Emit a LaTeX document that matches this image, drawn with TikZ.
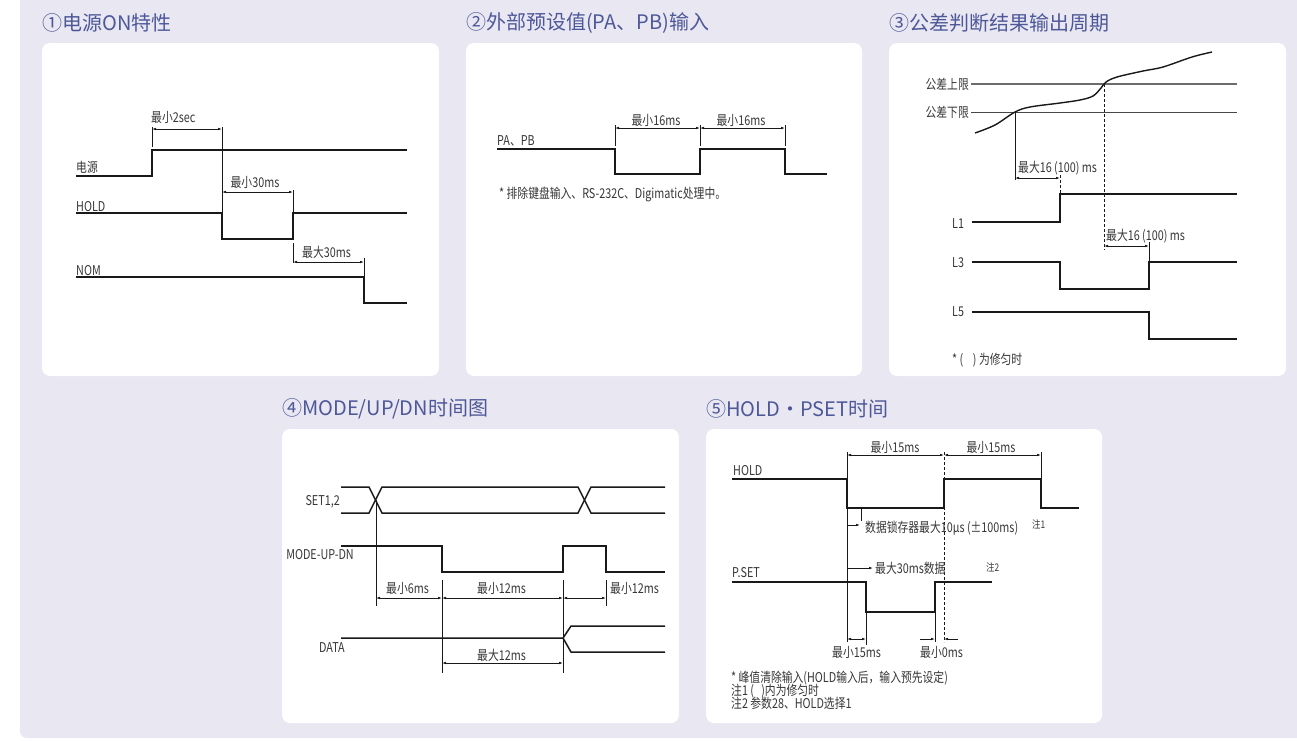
\documentclass[tikz,border=0pt]{standalone}
\usepackage{fontspec}
\usetikzlibrary{arrows.meta}
\newfontfamily\lbfont{Noto Sans CJK SC}[FakeStretch=0.8]
\newfontfamily\ttlfont{Noto Sans CJK SC}
\definecolor{bgc}{RGB}{232,231,242}
\definecolor{ttlc}{RGB}{78,88,152}
\definecolor{txtc}{RGB}{55,55,55}
\definecolor{sigc}{RGB}{25,25,25}
\begin{document}
\begin{tikzpicture}[x=1pt,y=-1pt,
  sig/.style={draw=sigc,line width=1.5pt,line join=miter},
  thinl/.style={draw=sigc,line width=0.8pt},
  dimline/.style={draw=sigc,line width=0.7pt,{Latex[length=4pt,width=2.6pt]}-{Latex[length=4pt,width=2.6pt]}},
  arrline/.style={draw=sigc,line width=0.7pt,-{Latex[length=4pt,width=2.6pt]}},
  dashl/.style={draw=sigc,line width=0.8pt,dash pattern=on 3pt off 2pt},
  lbl/.style={inner sep=0pt,text=txtc,font=\lbfont\fontsize{13.5pt}{15pt}\selectfont},
  small/.style={inner sep=0pt,text=txtc,font=\lbfont\fontsize{10.5pt}{12pt}\selectfont},
  ttl/.style={inner sep=0pt,anchor=west,text=ttlc,font=\ttlfont\fontsize{20pt}{22pt}\selectfont},
  panel/.style={fill=white,rounded corners=8pt}]
\useasboundingbox (0,0) rectangle (1297,740);
\clip (0,0) rectangle (1297,740);
\fill[white] (0,0) rectangle (1297,740);
\fill[bgc,rounded corners=7pt] (20,-20) rectangle (1320,738);
% panels
\fill[panel] (42,43) rectangle (439,376);
\fill[panel] (466,43) rectangle (862,376);
\fill[panel] (889,43) rectangle (1286,376);
\fill[panel] (282,429) rectangle (679,723);
\fill[panel] (706,429) rectangle (1102,723);
% titles
\node[ttl] (t1) at (42,23) {①电源ON特性};
\node[ttl] (t2) at (466,23) {②外部预设值(PA、PB)输入};
\node[ttl] (t3) at (889,23) {③公差判断结果输出周期};
\node[ttl] (t4) at (282,409) {④MODE/UP/DN时间图};
\node[ttl] (t5) at (706,409) {⑤HOLD・PSET时间};

% ===== Panel 1 =====
\draw[sig] (76,176) -- (152,176) -- (152,150) -- (407,150);
\draw[sig] (76,213) -- (222,213) -- (222,239) -- (293,239) -- (293,213) -- (407,213);
\draw[sig] (76,277) -- (364,277) -- (364,303) -- (407,303);
\node[lbl,anchor=base west] (p1a) at (76,172) {电源};
\node[lbl,anchor=base west] (p1b) at (76,211.5) {HOLD};
\node[lbl,anchor=base west] (p1c) at (76,275) {NOM};
\draw[thinl] (152,127) -- (152,147);
\draw[thinl] (222,127) -- (222,213);
\draw[dimline] (152,129) -- (222,129);
\node[lbl,anchor=base west] (p1d) at (151,122.5) {最小2sec};
\draw[thinl] (293,190) -- (293,213);
\draw[dimline] (222,192) -- (293,192);
\node[lbl,anchor=base] (p1e) at (255,187) {最小30ms};
\draw[thinl] (293,243) -- (293,263);
\draw[thinl] (364,258) -- (364,277);
\draw[dimline] (293,262) -- (364,262);
\node[lbl,anchor=base west] (p1f) at (302,257) {最大30ms};

% ===== Panel 2 =====
\draw[sig] (497,149) -- (615,149) -- (615,174) -- (700,174) -- (700,149) -- (785,149) -- (785,174) -- (827,174);
\node[lbl,anchor=base west] (p2a) at (497,145) {PA、PB};
\draw[thinl] (615,125) -- (615,146);
\draw[thinl] (700,125) -- (700,146);
\draw[thinl] (785,125) -- (785,146);
\draw[dimline] (615,128) -- (700,128);
\draw[dimline] (700,128) -- (785,128);
\node[lbl,anchor=base] (p2b) at (656,125.5) {最小16ms};
\node[lbl,anchor=base] (p2c) at (741,125.5) {最小16ms};
\node[lbl,anchor=base west] (p2d) at (499,198.5) {* 排除键盘输入、RS-232C、Digimatic处理中。};

% ===== Panel 3 =====
\draw[draw=gray!85!black,line width=1.3pt] (971,84) -- (1237,84);
\draw[draw=sigc!80,line width=0.8pt] (971,112) -- (1237,112);
\node[lbl,anchor=east] (p3a) at (969,84) {公差上限};
\node[lbl,anchor=east] (p3b) at (969,112) {公差下限};
\draw[sig,line width=1.4pt] plot[smooth,tension=0.55] coordinates {(975,133) (995,125) (1015,112) (1030,107) (1060,103) (1080,100) (1093,96) (1101,88) (1106,82) (1117,77) (1143,71) (1163,67) (1192,57) (1212,52)};
\draw[thinl] (1015,112) -- (1015,180);
\draw[dimline] (1015,178) -- (1060,178);
\draw[dashl] (1060,175) -- (1060,194);
\node[lbl,anchor=base west] (p3c) at (1018,172) {最大16 (100) ms};
\draw[dashl] (1104,84) -- (1104,250);
\draw[sig] (972,222) -- (1060,222) -- (1060,194) -- (1237,194);
\draw[dimline] (1104,246) -- (1149,246);
\draw[thinl] (1149,242) -- (1149,262);
\node[lbl,anchor=base west] (p3d) at (1106,240) {最大16 (100) ms};
\draw[sig] (972,262) -- (1060,262) -- (1060,289) -- (1149,289) -- (1149,262) -- (1237,262);
\draw[sig] (972,312) -- (1149,312) -- (1149,339) -- (1237,339);
\node[lbl,anchor=west] (p3e) at (952,224) {L1};
\node[lbl,anchor=west] (p3f) at (952,263) {L3};
\node[lbl,anchor=west] (p3g) at (952,312) {L5};
\node[lbl,anchor=base west] (p3h) at (952,364) {* (\ \ \ \ ) 为修匀时};

% ===== Panel 4 =====
\draw[sig] (341,487) -- (369,487) -- (382,513) -- (578,513) -- (591,487) -- (665,487);
\draw[sig] (341,513) -- (369,513) -- (382,487) -- (578,487) -- (591,513) -- (665,513);
\node[lbl,anchor=east] (p4a) at (340,502) {SET1,2};
\draw[thinl] (376,500) -- (376,606);
\draw[sig] (341,546) -- (442,546) -- (442,572) -- (563,572) -- (563,546) -- (606,546) -- (606,572) -- (665,572);
\node[lbl,anchor=east] (p4b) at (354,555) {MODE-UP-DN};
\draw[thinl] (442,580) -- (442,673);
\draw[thinl] (563,580) -- (563,673);
\draw[thinl] (606,580) -- (606,606);
\draw[dimline] (376,598) -- (442,598);
\draw[dimline] (442,598) -- (563,598);
\draw[dimline] (563,598) -- (606,598);
\node[lbl,anchor=base west] (p4c) at (386,593.5) {最小6ms};
\node[lbl,anchor=base west] (p4d) at (477,593.5) {最小12ms};
\node[lbl,anchor=base west] (p4e) at (610,593.5) {最小12ms};
\draw[sig] (341,638) -- (563,638) -- (571,626) -- (665,626);
\draw[sig] (563,638) -- (571,652) -- (665,652);
\node[lbl,anchor=east] (p4f) at (345,648) {DATA};
\draw[dimline] (442,663) -- (563,663);
\node[lbl,anchor=base west] (p4g) at (477,660.5) {最大12ms};

% ===== Panel 5 =====
\draw[sig] (732,479) -- (847,479) -- (847,508) -- (944,508) -- (944,479) -- (1041,479) -- (1041,508) -- (1079,508);
\node[lbl,anchor=base west] (p5a) at (733,475.5) {HOLD};
\draw[thinl] (847,452) -- (847,642);
\draw[dashl] (944,452) -- (944,642);
\draw[thinl] (1041,452) -- (1041,479);
\draw[dimline] (847,455) -- (944,455);
\draw[dimline] (944,455) -- (1041,455);
\node[lbl,anchor=base] (p5b) at (895,452.5) {最小15ms};
\node[lbl,anchor=base] (p5c) at (991,452.5) {最小15ms};
\draw[thinl] (861,508) -- (861,521);
\draw[arrline] (847,525) -- (860,525);
\node[lbl,anchor=base west] (p5d) at (865,532) {数据锁存器最大10μs (±100ms)};
\node[small,anchor=base west] (p5e) at (1032,528) {注1};
\draw[arrline] (847,568) -- (873,568);
\node[lbl,anchor=base west] (p5f) at (875,573) {最大30ms数据};
\node[small,anchor=base west] (p5g) at (986,571) {注2};
\draw[sig] (732,582) -- (866,582) -- (866,612) -- (935,612) -- (935,582) -- (992,582);
\node[lbl,anchor=base west] (p5h) at (732,577.5) {P.SET};
\draw[thinl] (866,612) -- (866,645);
\draw[thinl] (935,612) -- (935,642);
\draw[dimline] (847,639) -- (866,639);
\draw[arrline] (920,639) -- (935,639);
\draw[arrline] (958,639) -- (944,639);
\node[lbl,anchor=base west] (p5i) at (832,657) {最小15ms};
\node[lbl,anchor=base west] (p5j) at (920,657) {最小0ms};
\node[lbl,anchor=base west] (p5k) at (731,682) {* 峰值清除输入(HOLD输入后，输入预先设定)};
\node[lbl,anchor=base west] (p5l) at (731,695) {注1 (\ \ \ )内为修匀时};
\node[lbl,anchor=base west] (p5m) at (731,708) {注2 参数28、HOLD选择1};
\end{tikzpicture}
\end{document}
